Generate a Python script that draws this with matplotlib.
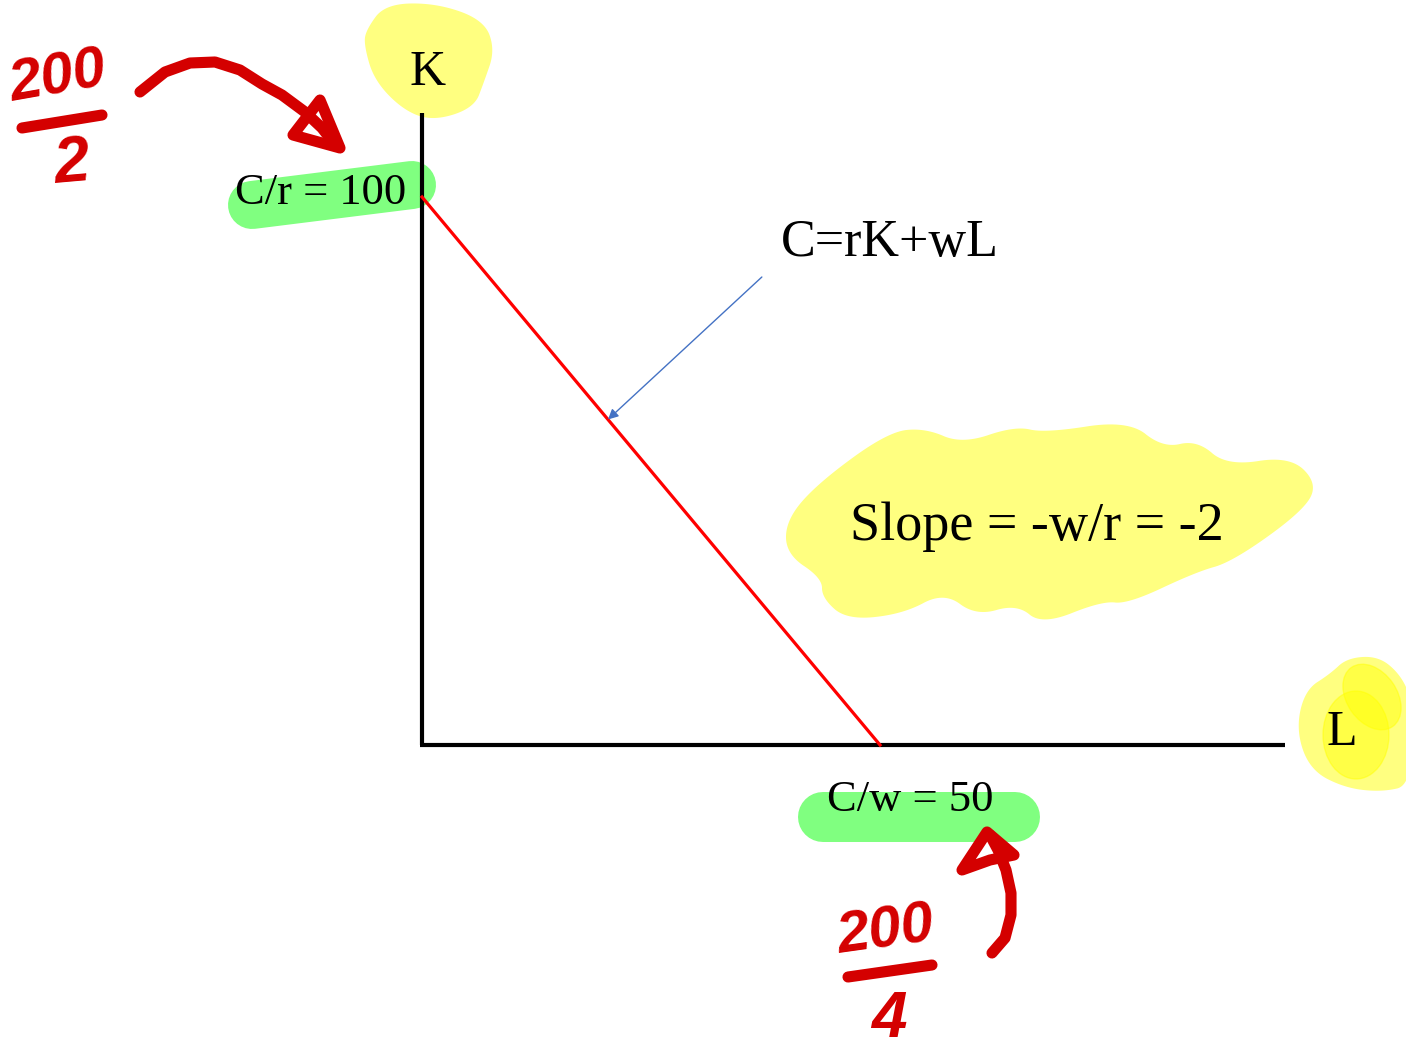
import numpy as np
import matplotlib.pyplot as plt
from matplotlib.patches import Ellipse, FancyArrowPatch, Polygon
from matplotlib.transforms import Affine2D

# budget line data
C_over_r = 100      # K intercept
C_over_w = 50       # L intercept
slope = -2          # -w/r
K_axis_top = 115.3
L_axis_end = 94.2
arrow_from_L = 37.1
arrow_from_K = 85.4
arrow_to_L = 20.3

W, H = 1406, 1055
fig = plt.figure(figsize=(W / 100, H / 100), dpi=100)
ax = fig.add_axes([0, 0, 1, 1])
ax.set_xlim(-46.07, 107.42)
ax.set_ylim(-56.57, 135.95)
ax.axis('off')

# overlay ink is placed in page pixels (origin top-left)
page = Affine2D().scale(1, -1).translate(0, H)

serif = ['Liberation Serif', 'DejaVu Serif']
hand = ['Liberation Sans', 'DejaVu Sans']
ink = '#d40000'
yellow = '#ffff80'
green = '#80ff80'


def chaikin(pts, n=4):
    p = np.asarray(pts, float)
    for _ in range(n):
        q = np.roll(p, -1, axis=0)
        p = np.column_stack([0.75 * p + 0.25 * q, 0.25 * p + 0.75 * q]).reshape(-1, 2)
    return p


def blob(pts, color, alpha=1.0):
    # highlighter patch with a smoothed outline
    ax.add_patch(Polygon(chaikin(pts), closed=True, facecolor=color, edgecolor='none',
                         alpha=alpha, transform=page, zorder=1))


# --- highlighter marks ---
blob([(366, 30), (385, 4), (436, 3), (484, 20), (495, 50), (484, 82), (474, 108),
      (433, 121), (403, 110), (374, 80), (364, 45)], yellow)

blob([(1296, 730), (1305, 690), (1330, 674), (1347, 658), (1378, 656), (1400, 674),
      (1412, 700), (1412, 785), (1382, 792), (1345, 788), (1310, 770)], yellow)
ax.add_patch(Ellipse((1356, 735), 66, 88, color='#ffff00', alpha=0.45, transform=page, zorder=1))
ax.add_patch(Ellipse((1372, 697), 50, 72, angle=-35, color='#ffff00', alpha=0.45,
                     transform=page, zorder=1))

blob([(786, 520), (818, 483), (888, 432), (925, 428), (962, 444), (1015, 426),
      (1045, 433), (1128, 420), (1163, 448), (1197, 440), (1227, 466), (1290, 456),
      (1318, 484), (1302, 512), (1232, 562), (1196, 572), (1128, 604), (1102, 601),
      (1042, 625), (1017, 604), (976, 616), (944, 592), (903, 614), (847, 620),
      (822, 598), (822, 578), (786, 554)], yellow)

# green label bars
ax.plot([252, 412], [205, 185], color=green, lw=48 * 0.72, solid_capstyle='round',
        transform=page, zorder=1)
ax.plot([823, 1015], [817, 817], color=green, lw=50 * 0.72, solid_capstyle='round',
        transform=page, zorder=1)

# --- axes and budget line ---
ax.plot([0, 0], [0, K_axis_top], color='black', lw=3, solid_capstyle='butt', zorder=3)
ax.plot([-0.2, L_axis_end], [0, 0], color='black', lw=3, solid_capstyle='butt', zorder=3)
L = np.array([0, C_over_w])
ax.plot(L, C_over_r + slope * L, color='#ff0000', lw=2.3, zorder=4)

arrow_to_K = C_over_r + slope * arrow_to_L
ax.add_patch(FancyArrowPatch((arrow_from_L, arrow_from_K), (arrow_to_L, arrow_to_K),
                             arrowstyle='-|>,head_length=6,head_width=3', color='#4472c4',
                             lw=1, shrinkA=0, shrinkB=0, zorder=5))

# --- labels ---
ax.text(0.66, 122.6, 'K', fontsize=36, family=serif, ha='center', va='center', zorder=6)
ax.text(100.4, 2.2, 'L', fontsize=36, family=serif, ha='center', va='center', zorder=6)
ax.text(-11.1, C_over_r + 0.7, f'C/r = {C_over_r}', fontsize=32, family=serif,
        ha='center', va='center', zorder=6)
ax.text(C_over_w + 3.3, -10.0, f'C/w = {C_over_w}', fontsize=32, family=serif,
        ha='center', va='center', zorder=6)
ax.text(51.1, 91.6, 'C=rK+wL', fontsize=37.5, family=serif, ha='center', va='center', zorder=6)
ax.text(67.1, 39.8, f'Slope = -w/r = {slope}', fontsize=39, family=serif,
        ha='center', va='center', zorder=6)

# --- handwritten notes ---
hw = dict(color=ink, family=hand, fontweight='bold', fontstyle='italic',
          ha='center', va='center', transform=page, zorder=7)
ax.text(58, 78, '200', fontsize=42, rotation=10, **hw)
ax.text(72, 165, '2', fontsize=46, rotation=5, **hw)
ax.text(886, 932, '200', fontsize=42, rotation=8, **hw)
ax.text(889, 1020, '4', fontsize=46, **hw)
ax.plot([22, 102], [128, 115], color=ink, lw=8, solid_capstyle='round', transform=page, zorder=7)
ax.plot([848, 932], [977, 965], color=ink, lw=8, solid_capstyle='round', transform=page, zorder=7)

curve_top = [(140, 92), (165, 72), (190, 63), (215, 62), (240, 70), (262, 84),
             (282, 95), (305, 112), (322, 128), (336, 146)]
xs, ys = zip(*curve_top)
ax.plot(xs, ys, color=ink, lw=8, solid_capstyle='round', solid_joinstyle='round',
        transform=page, zorder=7)
ax.add_patch(Polygon([(293, 135), (320, 100), (340, 148)], closed=True, fill=False,
                     edgecolor=ink, lw=8, joinstyle='round', transform=page, zorder=7))

curve_bot = [(992, 953), (1005, 938), (1011, 915), (1011, 893), (1006, 870),
             (998, 850), (990, 835)]
xs, ys = zip(*curve_bot)
ax.plot(xs, ys, color=ink, lw=8, solid_capstyle='round', solid_joinstyle='round',
        transform=page, zorder=7)
ax.add_patch(Polygon([(962, 870), (987, 832), (1014, 855), (990, 860)], closed=True,
                     fill=False, edgecolor=ink, lw=8, joinstyle='round', transform=page, zorder=7))

fig.savefig('out.png', dpi=100)
